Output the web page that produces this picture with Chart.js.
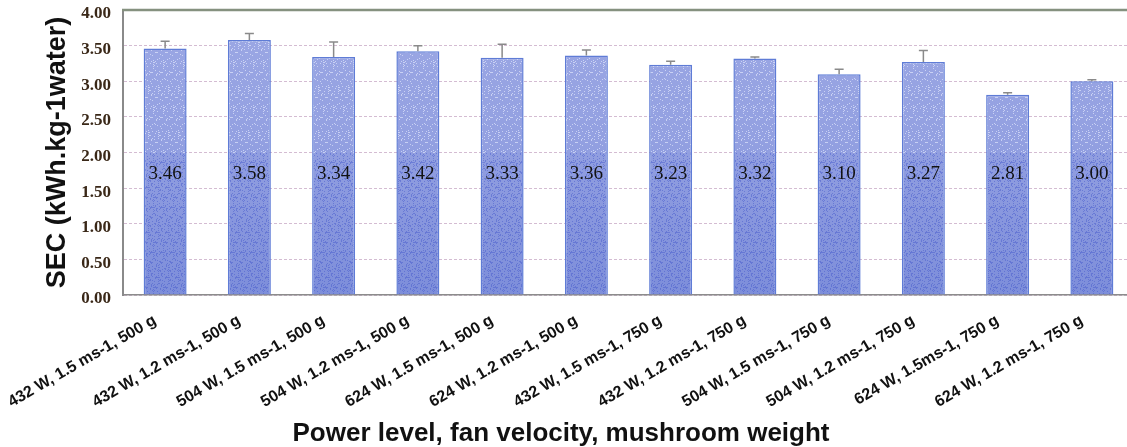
<!DOCTYPE html>
<html>
<head>
<meta charset="utf-8">
<script src="https://cdn.jsdelivr.net/npm/chart.js@4.4.1/dist/chart.umd.min.js"></script>
<style>
  html, body { margin: 0; padding: 0; background: #ffffff; overflow: hidden; }
  #wrap { width: 1127px; height: 447px; overflow: hidden; position: relative; }
  canvas { display: block; }
</style>
</head>
<body>
<div id="wrap"><canvas id="chart" width="1136" height="447"></canvas></div>
<script>
// Treatment combinations: power level, fan velocity, mushroom weight
const categories = [
  '432 W, 1.5 ms-1, 500 g',
  '432 W, 1.2 ms-1, 500 g',
  '504 W, 1.5 ms-1, 500 g',
  '504 W, 1.2 ms-1, 500 g',
  '624 W, 1.5 ms-1, 500 g',
  '624 W, 1.2 ms-1, 500 g',
  '432 W, 1.5 ms-1, 750 g',
  '432 W, 1.2 ms-1, 750 g',
  '504 W, 1.5 ms-1, 750 g',
  '504 W, 1.2 ms-1, 750 g',
  '624 W, 1.5ms-1, 750 g',
  '624 W, 1.2 ms-1, 750 g'
];

// Specific energy consumption (kWh per kg water removed)
const secValues = [3.46, 3.58, 3.34, 3.42, 3.33, 3.36, 3.23, 3.32, 3.10, 3.27, 2.81, 3.00];

// Upper error (standard deviation) for each bar
const secErrors = [0.10, 0.09, 0.21, 0.08, 0.19, 0.08, 0.05, 0.02, 0.07, 0.16, 0.03, 0.02];

// Y-axis range and tick step
const yMin = 0;
const yMax = 4;
const yStep = 0.5;

const yTitle = 'SEC (kWh.kg-1water)';
const xTitle = 'Power level, fan velocity, mushroom weight';

// Stippled blue fill: vertical shade with fine speckles
function makeStipple(top, bottom) {
  const tile = document.createElement('canvas');
  tile.width = 10;
  tile.height = 447;
  const c = tile.getContext('2d');
  const g = c.createLinearGradient(0, top, 0, bottom);
  g.addColorStop(0, '#9ca8e4');
  g.addColorStop(0.45, '#93a0e1');
  g.addColorStop(1, '#7d8eda');
  c.fillStyle = g;
  c.fillRect(0, 0, tile.width, tile.height);
  for (let j = 0; j < tile.height; j++) {
    for (let i = 0; i < tile.width; i++) {
      const h = (i * 7 + j * 13 + ((i * j) % 5)) % 9;
      if (h === 0) {
        const t = (j - top) / (bottom - top);
        c.fillStyle = t < 0.5 ? 'rgba(235,240,255,0.6)' : 'rgba(70,90,205,0.5)';
        c.fillRect(i, j, 1, 1);
      } else if (h === 4 && j > (top + bottom) / 2) {
        c.fillStyle = 'rgba(60,80,200,0.4)';
        c.fillRect(i, j, 1, 1);
      }
    }
  }
  return tile;
}

// Draws the upper whisker of each bar
const errorBars = {
  id: 'errorBars',
  afterDatasetsDraw(chart) {
    const ctx = chart.ctx;
    const meta = chart.getDatasetMeta(0);
    const y = chart.scales.y;
    ctx.save();
    ctx.strokeStyle = '#8a8a8a';
    ctx.lineWidth = 1.5;
    meta.data.forEach((bar, i) => {
      const top = y.getPixelForValue(secValues[i]);
      const end = y.getPixelForValue(secValues[i] + secErrors[i]);
      ctx.beginPath();
      ctx.moveTo(bar.x, top);
      ctx.lineTo(bar.x, end);
      ctx.moveTo(bar.x - 4.5, end);
      ctx.lineTo(bar.x + 4.5, end);
      ctx.stroke();
    });
    ctx.restore();
  }
};

// Value labels printed inside the bars
const valueLabels = {
  id: 'valueLabels',
  afterDatasetsDraw(chart) {
    const ctx = chart.ctx;
    const meta = chart.getDatasetMeta(0);
    ctx.save();
    ctx.fillStyle = '#111111';
    ctx.font = '19px "Liberation Serif", "Times New Roman", serif';
    ctx.textAlign = 'center';
    ctx.textBaseline = 'middle';
    meta.data.forEach((bar, i) => {
      ctx.fillText(secValues[i].toFixed(2), bar.x, 174);
    });
    ctx.restore();
  }
};

// Top frame line and the x-axis title centred under the figure
const frame = {
  id: 'frame',
  afterDraw(chart) {
    const ctx = chart.ctx;
    const a = chart.chartArea;
    ctx.save();
    ctx.strokeStyle = '#85917f';
    ctx.lineWidth = 2.5;
    ctx.beginPath();
    ctx.moveTo(a.left - 1, a.top);
    ctx.lineTo(a.right, a.top);
    ctx.stroke();
    ctx.fillStyle = '#111111';
    ctx.font = 'bold 26px "Liberation Sans", Arial, sans-serif';
    ctx.textAlign = 'center';
    ctx.textBaseline = 'middle';
    ctx.fillText(xTitle, 561, 434);
    ctx.restore();
  }
};

const stipple = makeStipple(10, 295);
const ctx = document.getElementById('chart').getContext('2d');
const fillPattern = ctx.createPattern(stipple, 'repeat');

new Chart(ctx, {
  type: 'bar',
  data: {
    labels: categories,
    datasets: [{
      data: secValues,
      backgroundColor: fillPattern,
      borderColor: '#5f7cd6',
      borderWidth: 1.5,
      barPercentage: 0.51,
      categoryPercentage: 1.0
    }]
  },
  options: {
    responsive: false,
    animation: false,
    devicePixelRatio: 1,
    layout: { padding: { top: 10, right: 2, left: 0, bottom: 0 } },
    plugins: {
      legend: { display: false },
      tooltip: { enabled: false }
    },
    scales: {
      x: {
        grid: { display: false },
        border: { display: true, color: '#8c8c8c', width: 1.5 },
        ticks: {
          color: '#111111',
          font: { family: '"Liberation Sans", Arial, sans-serif', size: 16, weight: 'bold' },
          minRotation: 30,
          maxRotation: 30,
          autoSkip: false,
          labelOffset: -10,
          padding: 8
        },
        afterFit(scale) { scale.height = 152; }
      },
      y: {
        min: yMin,
        max: yMax,
        grid: {
          color: (c) => (c.tick && c.tick.value === yMax) ? 'rgba(0,0,0,0)' : '#d4bcd2',
          lineWidth: 1,
          drawTicks: false
        },
        // dash applies to the horizontal grid lines
        border: { display: true, color: '#8a8a8a', width: 2, dash: [3, 2] },
        ticks: {
          stepSize: yStep,
          color: '#3a2818',
          padding: 12,
          labelOffset: 4,
          font: { family: '"Liberation Serif", "Times New Roman", serif', size: 17, weight: 'bold' },
          callback: (v) => Number(v).toFixed(2)
        },
        title: {
          display: true,
          text: yTitle,
          color: '#111111',
          font: { family: '"Liberation Sans", Arial, sans-serif', size: 27, weight: 'bold', lineHeight: 1.2 },
          padding: { top: 41, bottom: 0 }
        },
        afterFit(scale) {
          scale.width = 123;
          scale.paddingTop = 0;
          scale.paddingBottom = 0;
        }
      }
    }
  },
  plugins: [errorBars, valueLabels, frame]
});
</script>
</body>
</html>
